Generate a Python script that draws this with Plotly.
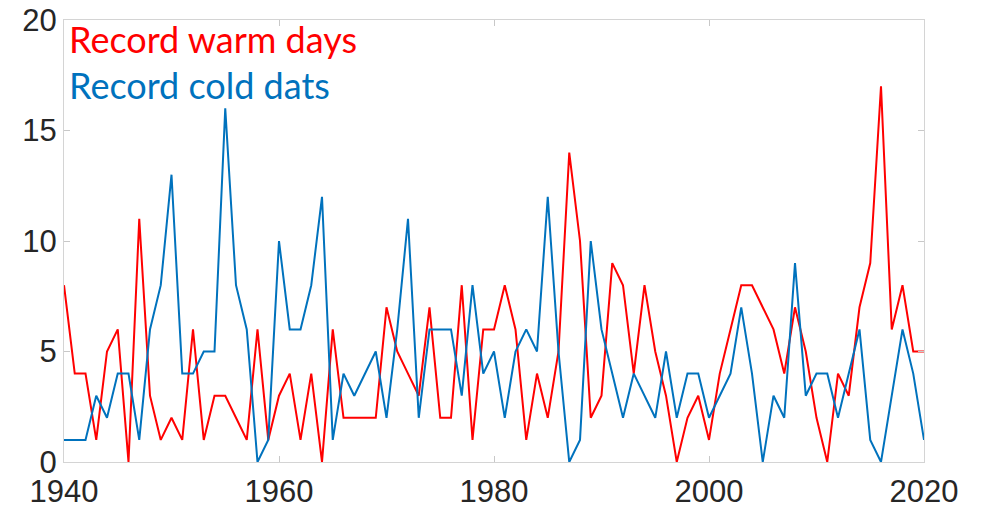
import plotly.graph_objects as go

years = list(range(1940, 2021))
warm_days = [8, 4, 4, 1, 5, 6, 0, 11, 3, 1,
             2, 1, 6, 1, 3, 3, 2, 1, 6, 1,
             3, 4, 1, 4, 0, 6, 2, 2, 2, 2,
             7, 5, 4, 3, 7, 2, 2, 8, 1, 6,
             6, 8, 6, 1, 4, 2, 5, 14, 10, 2,
             3, 9, 8, 4, 8, 5, 3, 0, 2, 3,
             1, 4, 6, 8, 8, 7, 6, 4, 7, 5,
             2, 0, 4, 3, 7, 9, 17, 6, 8, 5,
             5]
cold_days = [1, 1, 1, 3, 2, 4, 4, 1, 6, 8,
             13, 4, 4, 5, 5, 16, 8, 6, 0, 1,
             10, 6, 6, 8, 12, 1, 4, 3, 4, 5,
             2, 6, 11, 2, 6, 6, 6, 3, 8, 4,
             5, 2, 5, 6, 5, 12, 5, 0, 1, 10,
             6, 4, 2, 4, 3, 2, 5, 2, 4, 4,
             2, 3, 4, 7, 4, 0, 3, 2, 9, 3,
             4, 4, 2, 4, 6, 1, 0, 3, 6, 4,
             1]
x_ticks = [1940, 1960, 1980, 2000, 2020]
y_ticks = [0, 5, 10, 15, 20]
label_warm = "Record warm days"
label_cold = "Record cold dats"

RED = "#FF0000"
BLUE = "#0072BD"

fig = go.Figure()
fig.add_trace(go.Scatter(x=years, y=warm_days, mode="lines",
                         line=dict(color=RED, width=2), showlegend=False))
fig.add_trace(go.Scatter(x=years, y=cold_days, mode="lines",
                         line=dict(color=BLUE, width=2), showlegend=False))

axis_common = dict(
    showgrid=False, zeroline=False, showline=True, linecolor="#d4d4d4",
    linewidth=1, mirror="ticks", ticks="inside", ticklen=6, tickcolor="#c8c8c8",
    automargin=False,
    tickfont=dict(family="Liberation Sans, Arial, sans-serif", size=31, color="#262626"),
)

fig.update_xaxes(range=[1940, 2020], tickvals=x_ticks, ticktext=[str(v) for v in x_ticks],
                 ticklabelstandoff=2, **axis_common)
fig.update_yaxes(range=[0, 20], tickvals=y_ticks, ticktext=[str(v) for v in y_ticks],
                 **axis_common)

fig.add_annotation(x=0.003, y=0.956, xref="paper", yref="paper", text=label_warm,
                   showarrow=False, xanchor="left", yanchor="middle",
                   font=dict(family="Lato, Open Sans, sans-serif", size=36, color=RED))
fig.add_annotation(x=0.003, y=0.853, xref="paper", yref="paper", text=label_cold,
                   showarrow=False, xanchor="left", yanchor="middle",
                   font=dict(family="Lato, Open Sans, sans-serif", size=36, color=BLUE))

fig.update_layout(
    width=984, height=509,
    margin=dict(l=64, r=60, t=20, b=47),
    paper_bgcolor="white", plot_bgcolor="white",
)

fig.write_html("out.html")
